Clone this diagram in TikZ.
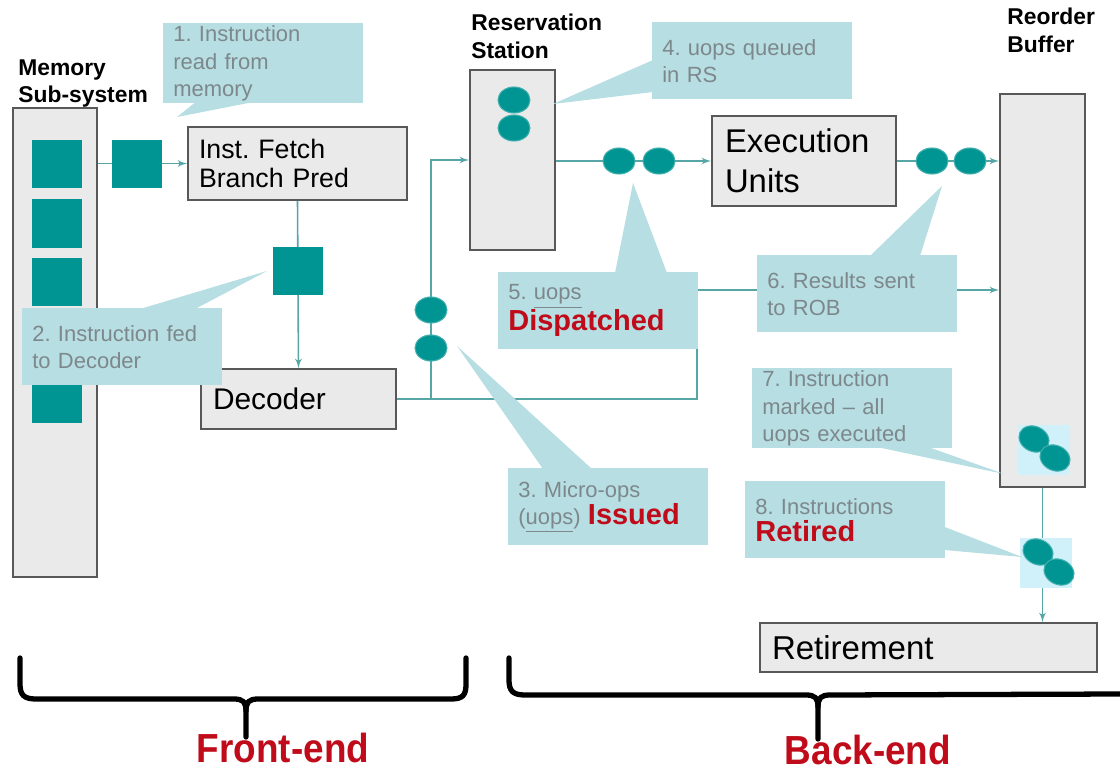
\documentclass[tikz,border=0pt]{standalone}
\usepackage{fontspec}
\setmainfont{Liberation Sans}
\usetikzlibrary{shapes, arrows, calc}

\definecolor{uopteal}{RGB}{0,148,146}
\definecolor{wireteal}{RGB}{86,166,166}
\definecolor{notebg}{RGB}{183,222,226}
\definecolor{notetext}{RGB}{125,136,140}
\definecolor{unitfill}{RGB}{234,234,234}
\definecolor{unitdraw}{RGB}{88,88,88}
\definecolor{hotred}{RGB}{192,12,26}
\definecolor{paleblue}{RGB}{208,240,250}

\tikzstyle{unit} = [rectangle, draw=unitdraw, fill=unitfill, line width=0.9pt,
    inner sep=0pt, align=left]
\tikzstyle{instr} = [rectangle, fill=uopteal, minimum width=10mm,
    minimum height=9.6mm, inner sep=0pt]
\tikzstyle{uop} = [ellipse, fill=uopteal, draw=uopteal!75!white, line width=0.6pt,
    minimum width=6.4mm, minimum height=5.2mm, inner sep=0pt]
\tikzstyle{tray} = [rectangle, fill=paleblue, minimum width=10.4mm,
    minimum height=10mm, inner sep=0pt]
\tikzstyle{note} = [rectangle, fill=notebg, text=notetext, text width=36mm,
    inner xsep=2mm, inner ysep=0.5mm, minimum height=15.4mm, align=left,
    anchor=north west, font=\fontsize{12.5}{15.5}\selectfont]
\tikzstyle{pointer} = [fill=notebg]
\tikzstyle{flow} = [draw=wireteal, line width=0.9pt, -latex']
\tikzstyle{wire} = [draw=wireteal, line width=0.9pt]
\tikzstyle{heading} = [font=\bfseries\fontsize{13}{15.5}\selectfont, align=left,
    anchor=north west, inner sep=0pt]
\tikzstyle{brace} = [draw=black, line width=3pt, line cap=round, line join=round]
\tikzstyle{part} = [text=hotred, inner sep=0pt, font=\bfseries\fontsize{21}{24}\selectfont]

\newcommand{\hot}[1]{{\color{hotred}\bfseries\fontsize{16.5}{19}\selectfont #1}}

\frenchspacing

\begin{document}
\begin{tikzpicture}[x=0.2mm, y=-0.2mm]
        \fill[white] (0,0) rectangle (1120,772);
        \useasboundingbox (0,0) rectangle (1120,772);
        % Place units
        \node [unit, minimum width=16.8mm, minimum height=93.8mm] (mem) at (55,342.5) {};
        \node [unit, minimum width=43.8mm, minimum height=14.6mm, text width=39.4mm,
            inner xsep=2.2mm, font=\fontsize{15.2}{17}\selectfont] (fetch) at (297.5,163.5)
            {Inst. Fetch\\Branch Pred};
        \node [unit, minimum width=39mm, minimum height=12mm, text width=34.2mm,
            inner xsep=2.4mm, font=\fontsize{17}{20}\selectfont] (dec) at (298.5,399) {Decoder};
        \node [unit, minimum width=17mm, minimum height=36mm] (rs) at (512.5,160) {};
        \node [unit, minimum width=36.8mm, minimum height=18mm, text width=31.6mm,
            inner xsep=2.6mm, font=\fontsize{18.7}{22.7}\selectfont] (eu) at (804,161)
            {Execution\\Units};
        \node [unit, minimum width=17mm, minimum height=78.6mm] (rob) at (1042.5,290.5) {};
        \node [unit, minimum width=67.4mm, minimum height=9.8mm, text width=62.6mm,
            inner xsep=2.4mm, font=\fontsize{18.8}{21}\selectfont] (ret) at (928.5,647.5)
            {Retirement};
        % Titles
        \node [heading] (memtitle) at (18,59) {Memory\\Sub-system};
        \node [heading] (rstitle) at (471,14) {Reservation\\Station};
        \node [heading] (robtitle) at (1007,8) {Reorder\\Buffer};
        % Draw edges
        \coordinate (issue) at (431,399);
        \coordinate (bypass) at (697,399);
        \coordinate (results) at (697,290);
        \path [flow] (mem.east |- fetch.west) -- (fetch.west);
        \path [flow] (fetch.south) -- (dec.north);
        \path [wire] (dec.east) -- (issue);
        \path [flow] (issue) |- (rs.west);
        \path [flow] (issue) -- (bypass) -- (results) -- (results -| rob.west);
        \path [flow] (rs.east |- eu.west) -- (eu.west);
        \path [flow] (eu.east) -- (eu.east -| rob.west);
        \path [flow] (rob.south) -- (rob.south |- ret.north);
        % Instructions in memory and on the way in
        \node [instr] (mem1) at (57,164) {};
        \node [instr] (mem2) at (57,223.5) {};
        \node [instr] (mem3) at (57,282) {};
        \node [instr] (mem4) at (57,340) {};
        \node [instr] (mem5) at (57,398.5) {};
        \node [instr] (fetched) at (137,164) {};
        \node [instr] (fed) at (298,271) {};
        % Micro-ops
        \node [uop] (rsuop1) at (514,100) {};
        \node [uop] (rsuop2) at (514,128) {};
        \node [uop] (issued1) at (431,310) {};
        \node [uop] (issued2) at (431,348) {};
        \node [uop] (sent1) at (619,161) {};
        \node [uop] (sent2) at (659,161) {};
        \node [uop] (done1) at (932,161) {};
        \node [uop] (done2) at (970,161) {};
        \node [tray] (robtray) at (1044,450) {};
        \node [uop, rotate=-25, minimum width=6.2mm, minimum height=5mm] (marked1) at (1034,439) {};
        \node [uop, rotate=-25, minimum width=6.2mm, minimum height=5mm] (marked2) at (1055,458) {};
        \node [tray] (rettray) at (1046,563) {};
        \node [uop, rotate=-25, minimum width=6.2mm, minimum height=5mm] (retired1) at (1038,552) {};
        \node [uop, rotate=-25, minimum width=6.2mm, minimum height=5mm] (retired2) at (1059,572) {};
        % Callouts
        \coordinate (tip1) at (177,117);
        \coordinate (tip2) at (267,271);
        \coordinate (tip3) at (457,346);
        \coordinate (tip4) at (553,104);
        \coordinate (tip5) at (633,183);
        \coordinate (tip6) at (942,186);
        \coordinate (tip7) at (1004,474);
        \coordinate (tip8) at (1022,557);
        \node [note] (note1) at (163,23) {1. Instruction\\read from\\memory};
        \fill [pointer] ($(note1.south west)+(32,-1)$) -- ($(note1.south west)+(87,-1)$) -- (tip1) -- cycle;
        \node [note] (note2) at (22,308) {2. Instruction fed\\to Decoder};
        \fill [pointer] ($(note2.north west)+(118,1)$) -- ($(note2.north west)+(173,1)$) -- (tip2) -- cycle;
        \node [note] (note3) at (508,468) {3. Micro-ops\\(\underline{uops}) \hot{Issued}};
        \fill [pointer] ($(note3.north west)+(35,1)$) -- ($(note3.north west)+(84,1)$) -- (tip3) -- cycle;
        \node [note] (note4) at (652,22) {4. uops queued\\in RS};
        \fill [pointer] ($(note4.north west)+(1,38)$) -- ($(note4.north west)+(1,70)$) -- (tip4) -- cycle;
        \node [note] (note5) at (498,272) {5. \underline{uops}\\\hot{Dispatched}};
        \fill [pointer] ($(note5.north west)+(117,1)$) -- ($(note5.north west)+(169,1)$) -- (tip5) -- cycle;
        \node [note] (note6) at (757,255) {6. Results sent\\to ROB};
        \fill [pointer] ($(note6.north west)+(113,1)$) -- ($(note6.north west)+(163,1)$) -- (tip6) -- cycle;
        \node [note] (note7) at (752,368) {7. Instruction\\marked -- all\\uops executed};
        \fill [pointer] ($(note7.south west)+(128,-1)$) -- ($(note7.south west)+(178,-1)$) -- (tip7) -- cycle;
        \node [note] (note8) at (745,481) {8. Instructions\\\hot{Retired}};
        \fill [pointer] ($(note8.north east)+(-1,46)$) -- ($(note8.north east)+(-1,69)$) -- (tip8) -- cycle;
        % Braces
        \draw [brace] (20,658) -- (20,684) .. controls (20,695) and (24,699) .. (36,699)
            -- (234,699) .. controls (243,699) and (246,702) .. (246,711) -- (246,737);
        \draw [brace] (246,711) .. controls (246,702) and (249,699) .. (258,699)
            -- (451,699) .. controls (463,699) and (466,695) .. (466,684) -- (466,658);
        \draw [brace] (509,658) -- (509,680) .. controls (509,691) and (513,695) .. (525,695)
            -- (806,695) .. controls (815,695) and (818,698) .. (818,707) -- (818,739);
        \draw [brace] (818,707) .. controls (818,698) and (821,695) .. (830,695)
            -- (1122,694);
        \node [part] (frontend) at (283,748) {\scalebox{1}[1.1]{Front-end}};
        \node [part] (backend) at (868,750) {\scalebox{1}[1.1]{Back-end}};
    \end{tikzpicture}
\end{document}
